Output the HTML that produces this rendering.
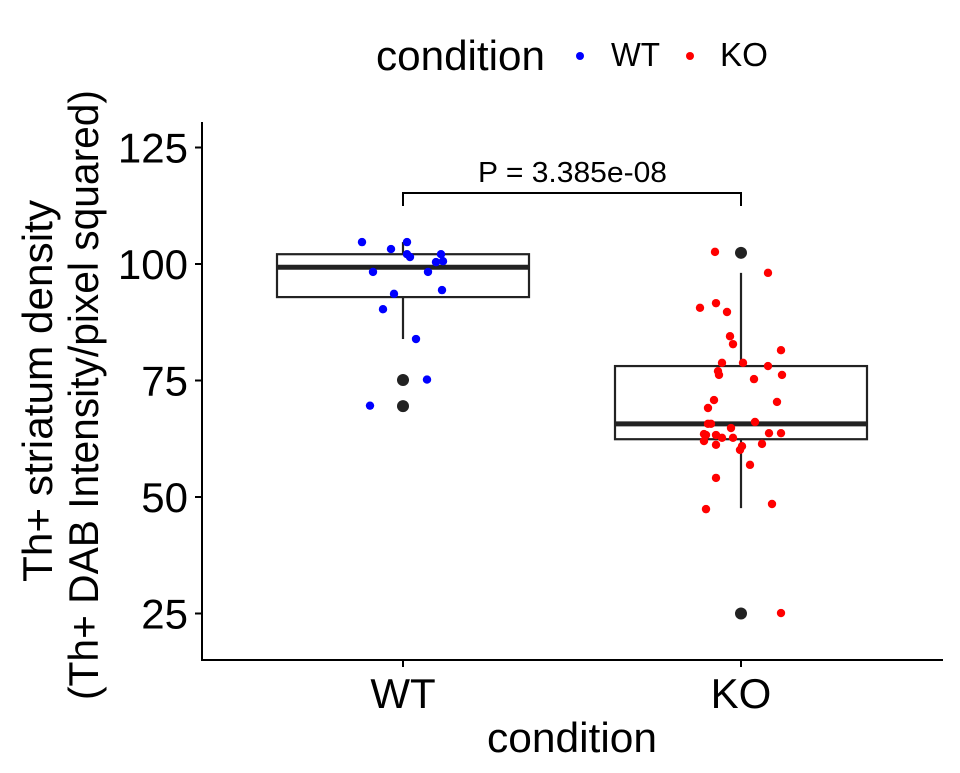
<!DOCTYPE html>
<html><head><meta charset="utf-8"><style>
body{margin:0;background:#fff}
svg text{font-family:"Liberation Sans",Arial,sans-serif;fill:#000}
</style></head><body>
<svg id="chart" width="960" height="768">
<g id="legend">
<text x="376" y="70" font-size="42" textLength="169" lengthAdjust="spacingAndGlyphs">condition</text>
<circle cx="580" cy="56" r="4" fill="#0000ff"/>
<text x="611" y="66" font-size="33" textLength="49" lengthAdjust="spacingAndGlyphs">WT</text>
<circle cx="690" cy="56" r="4" fill="#ff0000"/>
<text x="720" y="66" font-size="33" textLength="48" lengthAdjust="spacingAndGlyphs">KO</text>
</g>
<g id="yaxis"></g>
<g id="xaxis"></g>
<g id="boxes"></g>
<g id="points"></g>
<text x="487" y="752" font-size="42" textLength="170" lengthAdjust="spacingAndGlyphs">condition</text>
<text transform="translate(52,582) rotate(-90)" font-size="42" textLength="382" lengthAdjust="spacingAndGlyphs">Th+ striatum density</text>
<text transform="translate(98,700) rotate(-90)" font-size="42" textLength="610" lengthAdjust="spacingAndGlyphs">(Th+ DAB Intensity/pixel squared)</text>
<g id="sig"></g>
</svg>
<script>
const categories=["WT","KO"];
const yTicks=[25,50,75,100,125];
const boxQ1=[92.9,62.4], boxMedian=[99.3,65.7], boxQ3=[102.1,78.1], whiskerLow=[83.9,47.6], whiskerHigh=[104.7,98.1];
const outliersWT=[75.1,69.5], outliersKO=[102.4,25.0];
const wtValues=[104.7,103.2,104.7,102.1,101.5,102.1,100.4,100.6,98.3,98.3,93.6,94.4,90.3,83.9,75.2,69.6];
const wtJitter=[-41,-12,4,4,7,38,33,40,-30,25,-9,39,-20,13,24,-33];
const koValues=[102.6,98.1,90.6,91.6,89.7,84.5,82.8,81.5,78.8,78.8,78.1,77.0,76.2,75.3,76.2,70.4,70.8,69.1,65.7,65.7,66.1,64.8,63.5,63.3,63.3,62.7,62.0,62.7,63.7,63.7,61.4,61.2,60.9,60.1,56.9,54.1,47.4,48.5,25.1];
const koJitter=[-26,27,-41,-25,-14,-11,-8,40,-19,2,27,-23,-22,13,41,36,-27,-33,-33,-30,14,-10,-37,-35,-25,-19,-37,-8,28,40,21,-25,1,-1,9,-25,-35,31,40];
const pLabel="P = 3.385e-08";
const NS="http://www.w3.org/2000/svg";
const X0=202,X1=943,Y0=122,Y1=660;
const y=v=>264-(v-100)*4.66;
const xc=i=>403+i*338;
function mk(p,t,a){const e=document.createElementNS(NS,t);for(const k in a)e.setAttribute(k,a[k]);document.getElementById(p).appendChild(e);return e;}
let e;
e=mk("yaxis","line",{x1:X0,y1:Y0,x2:X0,y2:Y1+1,stroke:"#000","stroke-width":2});


yTicks.forEach(t=>{
 e=mk("yaxis","line",{x1:X0-7,x2:X0,y1:y(t),y2:y(t),stroke:"#000","stroke-width":2});
 
 
 e=mk("yaxis","text",{x:X0-14,y:y(t)+15,"font-size":42,"text-anchor":"end"});e.textContent=t;
 
 
});
e=mk("xaxis","line",{x1:X0-1,y1:Y1,x2:X1,y2:Y1,stroke:"#000","stroke-width":2});


categories.forEach((c,i)=>{
 e=mk("xaxis","line",{x1:xc(i),x2:xc(i),y1:Y1,y2:Y1+7,stroke:"#000","stroke-width":2});
 
 
 e=mk("xaxis","text",{x:xc(i),y:Y1+48,"font-size":42,"text-anchor":"middle"});e.textContent=c;
 
 
 const g="boxes",hw=126,s={stroke:"#222","stroke-width":2.2};
 e=mk(g,"line",Object.assign({x1:xc(i),x2:xc(i),y1:y(boxQ3[i]),y2:y(whiskerHigh[i])},s));
 
 
 e=mk(g,"line",Object.assign({x1:xc(i),x2:xc(i),y1:y(boxQ1[i]),y2:y(whiskerLow[i])},s));
 
 
 e=mk(g,"rect",Object.assign({x:xc(i)-hw,width:2*hw,y:y(boxQ3[i]),height:y(boxQ1[i])-y(boxQ3[i]),fill:"#fff"},s));
 
 
 e=mk(g,"line",{x1:xc(i)-hw,x2:xc(i)+hw,y1:y(boxMedian[i]),y2:y(boxMedian[i]),stroke:"#222","stroke-width":5});
 
 
 (i?outliersKO:outliersWT).forEach(v=>{
  e=mk(g,"circle",{cx:xc(i),cy:y(v),r:6,fill:"#222"});
  
  
 });
});
wtValues.forEach((v,k)=>{
 e=mk("points","circle",{cx:xc(0)+wtJitter[k],cy:y(v),r:4.2,fill:"#0000ff"});
 
 
});
koValues.forEach((v,k)=>{
 e=mk("points","circle",{cx:xc(1)+koJitter[k],cy:y(v),r:4.2,fill:"#ff0000"});
 
 
});
e=mk("sig","path",{d:`M${xc(0)},206V193H${xc(1)}V206`,fill:"none",stroke:"#000","stroke-width":2});


e=mk("sig","text",{x:478,y:182,"font-size":29,textLength:189,lengthAdjust:"spacingAndGlyphs"});e.textContent=pLabel;


</script>
</body></html>
